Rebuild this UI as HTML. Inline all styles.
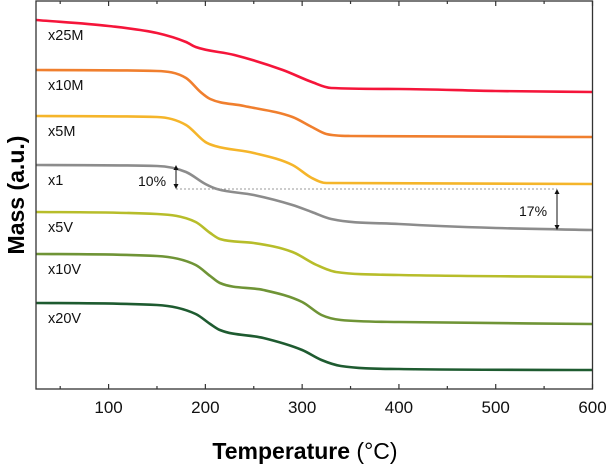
<!DOCTYPE html>
<html><head><meta charset="utf-8"><style>
body{margin:0;background:#fff;}
svg{display:block;font-family:"Liberation Sans",Arial,sans-serif;}
</style></head><body>
<svg id="chart" width="611" height="467"></svg>
<script>
const temps25M=[25,100,150,180,190,230,280,310,330,400,500,600];
const mass25M=[92.25,90.75,89,86.75,85.5,83.5,79.75,76.75,75.25,75,74.5,74.25];
const temps10M=[25,150,180,195,205,240,290,310,325,350,600];
const mass10M=[79.75,79.5,77.75,74.25,72.5,70.75,68,65.5,63.75,63.25,63];
const temps5M=[25,150,180,200,210,250,290,310,325,600];
const mass5M=[68.25,68,66,61.75,60.75,59,56,52.75,51.5,51.25];
const temps1=[25,150,180,200,212,250,290,310,330,400,500,600];
const mass1=[56,55.75,54.25,51.25,50,48.5,46,44.25,42.5,41.25,40.25,39.75];
const temps5V=[25,150,190,205,215,250,290,315,335,400,600];
const mass5V=[44.25,43.75,41.75,39,37.5,36.5,34.25,31,29.25,28.5,28];
const temps10V=[25,150,190,205,215,260,300,320,340,400,600];
const mass10V=[33.75,33.25,31,28.25,26.5,24.75,21.75,18.5,17.25,16.75,16.25];
const temps20V=[25,150,190,205,215,260,300,320,340,400,600];
const mass20V=[21.5,21,18.75,16.25,14.75,12.75,9.75,7.25,5.75,5,4.75];
const seriesNames=["x25M","x10M","x5M","x1","x5V","x10V","x20V"];
const xTickLabels=[100,200,300,400,500,600];
const refLevel=50; const step1Top=56; const step2Bottom=39.75;

const NS="http://www.w3.org/2000/svg";
const svg=document.getElementById('chart');
const L=36,R=592.5,T=1,B=389,X0=25,X1=600,Y0=0,Y1=97;
const sx=t=>L+(t-X0)/(X1-X0)*(R-L);
const sy=v=>B-(v-Y0)/(Y1-Y0)*(B-T);
function mk(tag,attrs,name,txt){const e=document.createElementNS(NS,tag);for(const k in attrs)e.setAttribute(k,attrs[k]);


if(txt!==undefined)e.textContent=txt;svg.appendChild(e);return e;}
function path(xs,ys){
  const X=xs.map(sx),Y=ys.map(sy),n=X.length;
  const d=[],m=[];
  for(let i=0;i<n-1;i++)d.push((Y[i+1]-Y[i])/(X[i+1]-X[i]));
  m[0]=d[0];m[n-1]=d[n-2];
  for(let i=1;i<n-1;i++){m[i]=(d[i-1]*d[i]<=0)?0:(d[i-1]+d[i])/2;}
  for(let i=0;i<n-1;i++){if(d[i]===0){m[i]=0;m[i+1]=0;continue;}
    const a=m[i]/d[i],b=m[i+1]/d[i],s=a*a+b*b;if(s>9){const t=3/Math.sqrt(s);m[i]=t*a*d[i];m[i+1]=t*b*d[i];}}
  let p=`M${X[0]},${Y[0]}`;
  for(let i=0;i<n-1;i++){const h=(X[i+1]-X[i])/3;
    p+=`C${X[i]+h},${Y[i]+m[i]*h} ${X[i+1]-h},${Y[i+1]-m[i+1]*h} ${X[i+1]},${Y[i+1]}`;}
  return p;}
const data=[[temps25M,mass25M,"#f5153a"],[temps10M,mass10M,"#f07f2e"],[temps5M,mass5M,"#f5b52a"],[temps1,mass1,"#8c8c8c"],[temps5V,mass5V,"#b7bd2a"],[temps10V,mass10V,"#6f9436"],[temps20V,mass20V,"#1e5b30"]];
data.forEach((s,i)=>{mk('path',{d:path(s[0],s[1]),fill:'none',stroke:s[2],'stroke-width':2.6},'curve-'+seriesNames[i].toLowerCase());
mk('text',{x:48,y:sy(s[1][0])+20,'font-size':14.5,fill:'#111'},'label-'+seriesNames[i].toLowerCase(),seriesNames[i]);});
mk('rect',{x:L,y:T,width:R-L,height:B-T,fill:'none',stroke:'#333','stroke-width':1.3},'plot-frame');
for(let t=50;t<=600;t+=50){const maj=t%100===0,len=maj?5:3;
mk('line',{x1:sx(t),x2:sx(t),y1:B,y2:B-len,stroke:'#333','stroke-width':1.2},'x-tick');
mk('line',{x1:sx(t),x2:sx(t),y1:T,y2:T+len,stroke:'#333','stroke-width':1.2},'top-tick');}
xTickLabels.forEach(t=>mk('text',{x:sx(t),y:413,'font-size':17,'text-anchor':'middle',fill:'#111'},'x-tick-label',String(t)));
const xa=176,xb=557;
mk('line',{x1:xa,x2:xb,y1:sy(refLevel),y2:sy(refLevel),stroke:'#999','stroke-width':1,'stroke-dasharray':'2,2'},'reference-dotted-line');
function arrow(x,v1,v2,name){const y1=sy(v1),y2=sy(v2);mk('line',{x1:x,x2:x,y1:y1+4,y2:y2-4,stroke:'#111','stroke-width':1},name);
mk('path',{d:`M${x-2.5},${y1+5}L${x},${y1}L${x+2.5},${y1+5}Z M${x-2.5},${y2-5}L${x},${y2}L${x+2.5},${y2-5}Z`,fill:'#111'},name+'-heads');}
arrow(xa,step1Top,refLevel,'arrow-10pct');
arrow(xb,refLevel,step2Bottom,'arrow-17pct');
mk('text',{x:138,y:186,'font-size':14,fill:'#111'},'annotation-10pct','10%');
mk('text',{x:519,y:216,'font-size':14,fill:'#111'},'annotation-17pct','17%');
const xt=mk('text',{x:305,y:459,'font-size':23,'text-anchor':'middle',fill:'#000'},'x-axis-title');
xt.innerHTML='<tspan font-weight="bold">Temperature</tspan> (°C)';
mk('text',{x:0,y:0,'font-size':23,'font-weight':'bold','text-anchor':'middle',transform:'translate(24,195) rotate(-90)',fill:'#000'},'y-axis-title','Mass (a.u.)');
</script>
</body></html>
